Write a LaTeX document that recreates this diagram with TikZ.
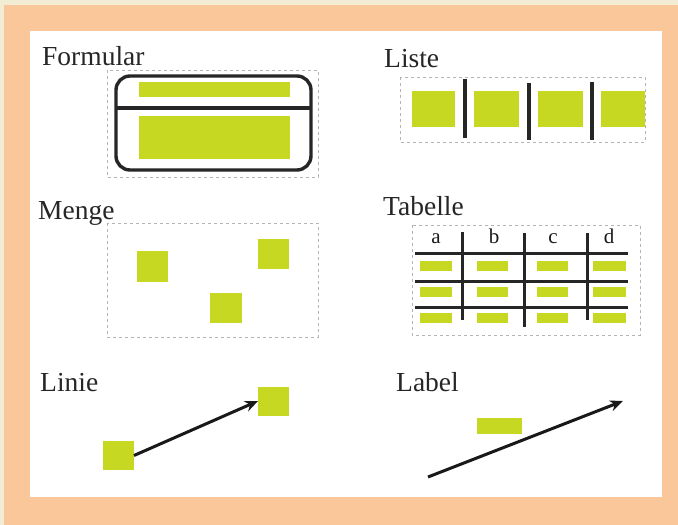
\documentclass[tikz,border=0pt]{standalone}
\usepackage{fontspec}
\setmainfont{Liberation Serif}
\usetikzlibrary{arrows.meta}
\definecolor{cream}{HTML}{F3ECD4}
\definecolor{frameor}{HTML}{FAC79B}
\definecolor{lime}{HTML}{C6D822}
\definecolor{dashgray}{HTML}{B4B4B4}
\begin{document}
\begin{tikzpicture}[x=1pt,y=-1pt,
  gbox/.style={fill=lime,draw=none,inner sep=0pt,outer sep=0pt},
  dbox/.style={draw=dashgray,dash pattern=on 3pt off 3pt,line width=0.8pt},
  title/.style={font=\fontsize{27.5}{30}\selectfont,anchor=base west,inner sep=0pt,text=black!85},
  hdr/.style={font=\fontsize{21}{23}\selectfont,anchor=base,inner sep=0pt,text=black!90},
  heavy/.style={line width=3.4pt,black!85},
  tline/.style={line width=3pt,black!85},
  arr/.style={line width=3pt,black!90,-{Stealth[length=13pt,width=11pt]}}]
\useasboundingbox (0,0) rectangle (678,525);
\fill[cream] (0,0) rectangle (678,525);
\fill[frameor] (4,5) rectangle (678,525);
\fill[white] (30,31) rectangle (662,497);

% ---------- Formular ----------
\node[title] (tform) at (42,65) {Formular};
\draw[dbox] (107,70) rectangle (318,177);
\draw[heavy,rounded corners=14pt] (116,76) rectangle (311,170);
\coordinate (fl) at (116,108);
\coordinate (fr) at (311,108);
\draw[heavy] (fl) -- (fr);
\node[gbox,minimum width=151pt,minimum height=15pt] (fbar1) at (214.5,89.5) {};
\node[gbox,minimum width=151pt,minimum height=43pt] (fbar2) at (214.5,137.5) {};

% ---------- Liste ----------
\node[title] (tliste) at (384,67) {Liste};
\draw[dbox] (400,77) rectangle (645,142);
\node[gbox,minimum width=43pt,minimum height=36pt] (l1) at (433.5,109) {};
\node[gbox,minimum width=45pt,minimum height=36pt] (l2) at (496.5,109) {};
\node[gbox,minimum width=45pt,minimum height=36pt] (l3) at (560.5,109) {};
\node[gbox,minimum width=44pt,minimum height=36pt] (l4) at (623,109) {};
\coordinate (s1t) at (465,79); \coordinate (s1b) at (465,138);
\coordinate (s2t) at (529,83); \coordinate (s2b) at (529,140);
\coordinate (s3t) at (592,82); \coordinate (s3b) at (592,140);
\draw[heavy] (s1t) -- (s1b);
\draw[heavy] (s2t) -- (s2b);
\draw[heavy] (s3t) -- (s3b);

% ---------- Menge ----------
\node[title] (tmenge) at (38,219) {Menge};
\draw[dbox] (107,223) rectangle (318,337);
\node[gbox,minimum width=31pt,minimum height=31pt] (m1) at (152.5,266.5) {};
\node[gbox,minimum width=31pt,minimum height=30pt] (m2) at (273.5,253.5) {};
\node[gbox,minimum width=32pt,minimum height=30pt] (m3) at (226,308) {};

% ---------- Tabelle ----------
\node[title] (ttab) at (383,215) {Tabelle};
\draw[dbox] (412,225) rectangle (640,335);
\node[hdr] (ha) at (436,243) {a};
\node[hdr] (hb) at (494,243) {b};
\node[hdr] (hc) at (553,243) {c};
\node[hdr] (hd) at (609,243) {d};
\coordinate (r1l) at (415,253); \coordinate (r1r) at (628,253);
\coordinate (r2l) at (415,281); \coordinate (r2r) at (628,281);
\coordinate (r3l) at (415,307); \coordinate (r3r) at (628,307);
\coordinate (c1t) at (462,232); \coordinate (c1b) at (462,320);
\coordinate (c2t) at (524,233); \coordinate (c2b) at (524,327);
\coordinate (c3t) at (587,233); \coordinate (c3b) at (587,320);
\draw[tline] (r1l) -- (r1r);
\draw[tline] (r2l) -- (r2r);
\draw[tline] (r3l) -- (r3r);
\draw[tline] (c1t) -- (c1b);
\draw[tline] (c2t) -- (c2b);
\draw[tline] (c3t) -- (c3b);
\foreach \r/\y in {1/266,2/292,3/318}{
  \node[gbox,minimum width=32pt,minimum height=10pt] (ta\r) at (436,\y) {};
  \node[gbox,minimum width=31pt,minimum height=10pt] (tb\r) at (492,\y) {};
  \node[gbox,minimum width=31pt,minimum height=10pt] (tc\r) at (552,\y) {};
  \node[gbox,minimum width=33pt,minimum height=10pt] (td\r) at (609.5,\y) {};
}

% ---------- Linie ----------
\node[title] (tlinie) at (40,391) {Linie};
\node[gbox,minimum width=31pt,minimum height=29pt] (n1) at (118.5,455.5) {};
\node[gbox,minimum width=31pt,minimum height=29pt] (n2) at (273.5,401) {};
\draw[arr] (n1.east) -- (n2.west);

% ---------- Label ----------
\node[title] (tlabel) at (396,391) {Label};
\node[gbox,minimum width=45pt,minimum height=16pt] (lb) at (499.5,426) {};
\coordinate (la) at (428,477);
\coordinate (lz) at (623,401);
\draw[arr] (la) -- (lz);
\end{tikzpicture}
\end{document}
